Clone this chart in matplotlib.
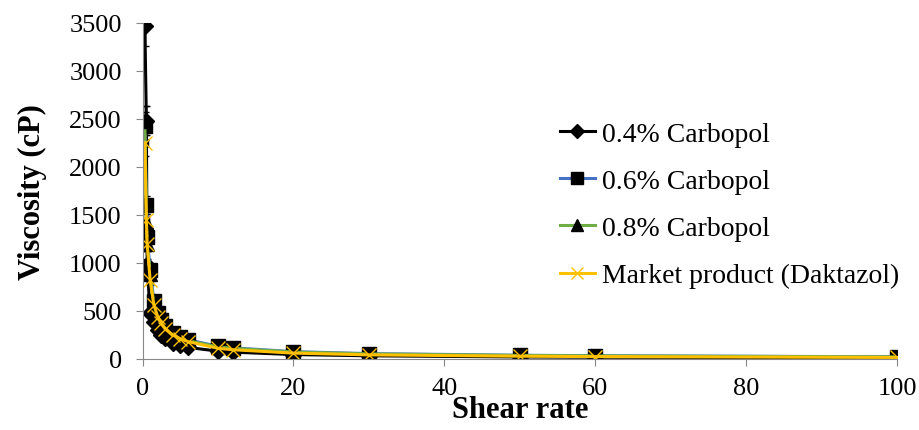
import matplotlib
matplotlib.use("Agg")
import matplotlib.pyplot as plt

plt.rcParams['font.family'] = ['Liberation Serif', 'DejaVu Serif']

# shear rates (1/s)
shear = [0.3, 0.5, 0.6, 1, 1.5, 2, 2.5, 3, 4, 5, 6, 10, 12, 20, 30, 50, 60, 100]

# viscosity (cP)
carb_04 = [3470, 2480, 980, 480, 380, 300, 250, 220, 170, 140, 120, 80, 70, 45, 32, 20, 17, 11]
carb_06 = [2420, 1600, 1270, 930, 600, 480, 400, 340, 270, 230, 200, 130, 115, 75, 55, 38, 33, 22]
carb_08 = [2480, 1420, 1200, 880, 560, 450, 380, 320, 260, 220, 190, 125, 110, 72, 52, 36, 31, 21]
market = [2250, 1450, 1200, 820, 560, 440, 370, 310, 250, 210, 180, 110, 95, 60, 42, 28, 24, 15]

labels = ['0.4% Carbopol', '0.6% Carbopol', '0.8% Carbopol', 'Market product (Daktazol)']
colors = ['black', '#4472C4', '#70AD47', '#FFC000']
markers = ['D', 's', '^', 'x']
sizes = [8, 10, 10, 10]

fig = plt.figure(figsize=(9.2, 4.31), dpi=100)
ax = fig.add_axes([0.155, 0.165, 0.82, 0.78])

series = [carb_04, carb_06, carb_08, market]
for vals, lab, col, mk, ms in zip(series, labels, colors, markers, sizes):
    yerr = [v * 0.06 for v in vals]
    mfc = col if mk == 'x' else 'black'
    ax.errorbar(shear, vals, yerr=yerr, xerr=0.4, fmt='-', color=col, ecolor='black',
                elinewidth=1, capsize=3, lw=2.2, marker=mk, markersize=ms,
                markerfacecolor=mfc, markeredgecolor=mfc, label=lab)

ax.set_xlim(0, 100)
ax.set_ylim(0, 3500)
ax.set_xticks(range(0, 101, 20))
ax.set_yticks(range(0, 3501, 500))
ax.tick_params(labelsize=19, color='#888888', length=5)
ax.tick_params(axis='x', pad=8)
ax.tick_params(axis='y', pad=10)
for s in ['top', 'right']:
    ax.spines[s].set_visible(False)
for s in ['left', 'bottom']:
    ax.spines[s].set_color('#888888')

ax.set_xlabel('Shear rate', fontsize=22, fontweight='bold', labelpad=-3)
ax.set_ylabel('Viscosity (cP)', fontsize=22, fontweight='bold', labelpad=16)

handles, labs = ax.get_legend_handles_labels()
handles = [h[0] for h in handles]
ax.legend(handles, labs, loc='center left', bbox_to_anchor=(0.553, 0.458), frameon=False,
          fontsize=20, handlelength=1.26, labelspacing=0.78, handletextpad=0.25,
          borderpad=0, borderaxespad=0, markerscale=0.9)

fig.savefig('out.png', dpi=100)
